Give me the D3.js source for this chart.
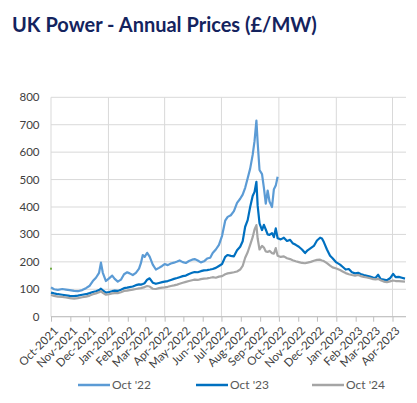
<!DOCTYPE html>
<html><head><meta charset="utf-8">
<script src="https://cdn.jsdelivr.net/npm/d3@7"></script>
<style>body{margin:0;background:#fff}svg{display:block}</style>
</head><body><svg id="c" width="417" height="403"></svg>
<script>
const dates = [
"2021-10-01","2021-10-06","2021-10-12","2021-10-19","2021-10-25","2021-10-31",
"2021-11-07","2021-11-13","2021-11-20","2021-11-26",
"2021-12-02","2021-12-07","2021-12-12","2021-12-17","2021-12-20","2021-12-23","2021-12-28",
"2022-01-02","2022-01-07","2022-01-11","2022-01-16","2022-01-21","2022-01-26","2022-01-31",
"2022-02-04","2022-02-09","2022-02-14","2022-02-19","2022-02-22","2022-02-25","2022-02-28",
"2022-03-04","2022-03-08","2022-03-13","2022-03-18","2022-03-23","2022-03-28",
"2022-04-01","2022-04-06","2022-04-11","2022-04-16","2022-04-21","2022-04-25","2022-04-30",
"2022-05-05","2022-05-10","2022-05-15","2022-05-19","2022-05-24","2022-05-29",
"2022-06-03","2022-06-08","2022-06-13","2022-06-17","2022-06-22","2022-06-27",
"2022-07-02","2022-07-07","2022-07-11","2022-07-16","2022-07-21","2022-07-26","2022-07-31",
"2022-08-04","2022-08-08","2022-08-12","2022-08-16","2022-08-20","2022-08-23","2022-08-26","2022-08-28","2022-08-31",
"2022-09-04","2022-09-07","2022-09-10","2022-09-13","2022-09-16","2022-09-20","2022-09-23","2022-09-26","2022-09-29",
"2022-10-04","2022-10-09","2022-10-14","2022-10-19","2022-10-23","2022-10-28",
"2022-11-02","2022-11-07","2022-11-12","2022-11-16","2022-11-21","2022-11-26",
"2022-12-01","2022-12-06","2022-12-09","2022-12-12","2022-12-17","2022-12-22","2022-12-26",
"2023-01-01","2023-01-07","2023-01-11","2023-01-16","2023-01-21","2023-01-26","2023-01-31",
"2023-02-05","2023-02-09","2023-02-14","2023-02-19","2023-02-24",
"2023-03-01","2023-03-05","2023-03-09","2023-03-13","2023-03-18","2023-03-23","2023-03-28",
"2023-04-02","2023-04-06","2023-04-11","2023-04-16","2023-04-21"
];
// Oct '22 contract (ends late Sep 2022)
const oct22 = [
107,100,98,101,99,97,
94,93,97,104,
113,130,142,160,197,160,130,
140,150,138,128,135,155,162,
158,152,160,175,195,225,218,
233,219,190,172,178,185,
192,188,194,197,201,205,199,
196,203,208,210,205,198,
202,212,215,232,245,262,
295,350,364,370,385,415,430,
445,470,505,540,590,640,715,635,535,
520,470,412,460,420,400,465,478,510
];
const oct23 = [
88,85,82,80,78,76,
75,77,80,82,
86,90,93,97,102,96,88,
90,93,95,94,98,104,106,
108,110,115,118,117,119,122,
135,140,124,120,123,126,
128,130,134,138,141,144,148,
150,156,160,163,162,166,
169,170,172,174,178,185,
192,218,225,222,220,242,255,
275,328,352,400,440,455,492,405,340,
316,335,318,300,298,305,290,322,286,
282,288,276,280,268,262,
255,245,232,242,250,258,
278,288,285,272,245,222,213,
198,190,182,172,174,162,158,
160,156,152,149,146,
143,142,153,137,135,133,140,
156,144,145,142,139
];
const oct24 = [
79,76,73,72,70,68,
66,68,71,73,
77,82,85,89,93,87,80,
82,85,86,86,89,94,95,
97,99,101,103,104,106,108,
112,110,102,101,104,106,
107,109,112,114,117,120,124,
127,130,133,135,134,137,
139,140,142,144,142,146,
148,155,158,160,162,165,172,
185,215,235,262,290,318,334,285,245,
258,252,238,236,240,232,230,250,222,
218,220,213,210,206,202,
199,196,195,197,200,204,
207,208,205,203,195,186,180,
176,170,165,159,155,152,150,
152,148,145,143,140,
137,136,138,133,128,126,129,
132,130,130,129,128
];
const oct21 = [175];
const yTicks = [0,100,200,300,400,500,600,700,800];
const seriesNames = ["Oct '22","Oct '23","Oct '24"];
const seriesColors = ["#5B9BD5","#0070C0","#A5A5A5"];
const titleText = "UK Power - Annual Prices (£/MW)";

const parse = d3.timeParse("%Y-%m-%d");
const D = dates.map(parse);
const svg = d3.select("#c");
const font = "Lato, 'Open Sans', sans-serif";

const x = d3.scaleTime().domain([parse("2021-10-01"), parse("2023-04-21")]).range([51, 405]);
const y = d3.scaleLinear().domain([0, 800]).range([316.7, 97.3]);

// title
const t = svg.append("text").attr("x", 12).attr("y", 32)
  .attr("font-family", font).attr("font-weight", 700).attr("font-size", 21)
  .attr("fill", "#14235E").text(titleText);
const w = t.node().getComputedTextLength();
t.attr("font-size", 21 * 305 / w);

// horizontal gridlines
svg.append("g").selectAll("line").data(yTicks).join("line")
  .attr("x1", 51).attr("x2", 406).attr("y1", d => y(d)).attr("y2", d => y(d))
  .attr("stroke", "#D9D9D9").attr("stroke-width", 1);
// vertical quarterly gridlines
const quarters = d3.timeMonth.every(3).range(parse("2021-10-01"), parse("2023-04-22"));
svg.append("g").selectAll("line").data(quarters).join("line")
  .attr("x1", d => x(d)).attr("x2", d => x(d)).attr("y1", y(800)).attr("y2", y(0))
  .attr("stroke", "#D9D9D9").attr("stroke-width", 1);

// y labels
svg.append("g").selectAll("text").data(yTicks).join("text")
  .attr("x", 39.5).attr("y", d => y(d)).attr("dy", "0.35em").attr("text-anchor", "end")
  .attr("font-family", font).attr("font-size", 11.5).attr("fill", "#404040").text(d => d);

// x axis
const xAxis = d3.axisBottom(x).ticks(d3.timeMonth.every(1)).tickSize(5).tickFormat("");
const gx = svg.append("g").attr("transform", `translate(0,${y(0)})`).call(xAxis);
gx.select(".domain").attr("stroke", "#BFBFBF").attr("d", `M51,0H406`);
gx.selectAll(".tick line").attr("stroke", "#BFBFBF");
const months = d3.timeMonth.every(1).range(parse("2021-10-01"), parse("2023-04-22"));
const fmt = d3.timeFormat("%b-%Y");
svg.append("g").selectAll("text").data(months).join("text")
  .attr("transform", d => `translate(${x(d) + 5},${y(0) + 12}) rotate(-45)`)
  .attr("text-anchor", "end").attr("dy", "0.35em")
  .attr("font-family", font).attr("font-size", 11.5).attr("fill", "#404040").text(d => fmt(d));

// lines
const line = d3.line().x(d => x(d[0])).y(d => y(d[1]));
const series = [oct22, oct23, oct24];
series.forEach((vals, i) => {
  svg.append("path").datum(vals.map((v, k) => [D[k], v]))
    .attr("d", line).attr("fill", "none").attr("stroke", seriesColors[i])
    .attr("stroke-width", 2.2).attr("stroke-linejoin", "round");
});
// stray single point of an earlier contract
svg.append("g").selectAll("rect").data(oct21).join("rect")
  .attr("x", x(D[0]) - 1).attr("y", d => y(d) - 1).attr("width", 2).attr("height", 2)
  .attr("fill", "#70AD47");

// legend
const lx = [78, 196, 312];
const lg = svg.append("g");
seriesNames.forEach((n, i) => {
  lg.append("line").attr("x1", lx[i]).attr("x2", lx[i] + 32).attr("y1", 385).attr("y2", 385)
    .attr("stroke", seriesColors[i]).attr("stroke-width", 2.5);
  lg.append("text").attr("x", lx[i] + 34).attr("y", 385).attr("dy", "0.35em")
    .attr("font-family", font).attr("font-size", 12).attr("fill", "#595959").text(n);
});
</script></body></html>
